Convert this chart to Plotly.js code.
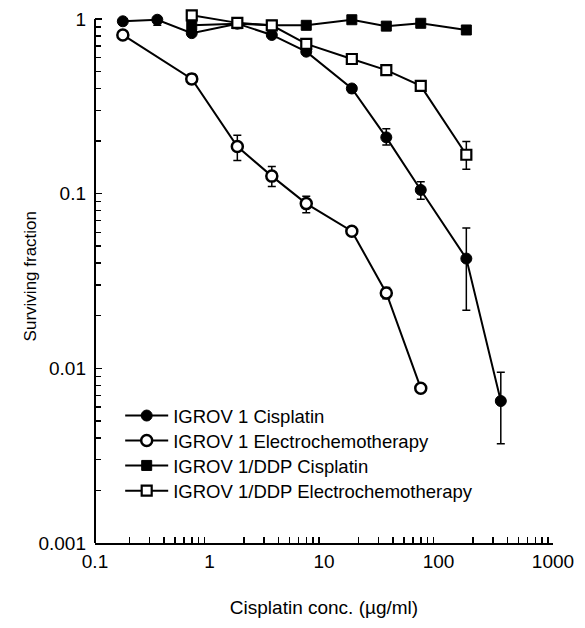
<!DOCTYPE html>
<html><head><meta charset="utf-8">
<script src="https://cdn.plot.ly/plotly-3.0.1.min.js"></script>
<style>html,body{margin:0;padding:0;background:#fff}#chart{width:585px;height:628px}</style>
</head><body><div id="chart"></div>
<script>
// IGROV 1 Cisplatin
const igCisX = [0.175, 0.35, 0.7, 1.75, 3.5, 7, 17.5, 35, 70, 175, 350];
const igCisY = [0.97, 0.99, 0.83, 0.94, 0.81, 0.65, 0.40, 0.21, 0.105, 0.0425, 0.0065];
const igCisErrUp = [0, 0, 0, 0, 0, 0, 0.02, 0.025, 0.012, 0.021, 0.003];
const igCisErrDn = [0, 0.07, 0, 0, 0, 0, 0.02, 0.02, 0.012, 0.021, 0.0028];
// IGROV 1 Electrochemotherapy
const igEctX = [0.175, 0.7, 1.75, 3.5, 7, 17.5, 35, 70];
const igEctY = [0.81, 0.454, 0.186, 0.126, 0.0877, 0.061, 0.027, 0.0077];
const igEctErrUp = [0, 0.03, 0.03, 0.017, 0.009, 0, 0.002, 0];
const igEctErrDn = [0, 0.03, 0.031, 0.016, 0.01, 0, 0.002, 0];
// IGROV 1/DDP Cisplatin
const ddpCisX = [0.7, 1.75, 3.5, 7, 17.5, 35, 70, 175];
const ddpCisY = [0.92, 0.94, 0.92, 0.92, 0.99, 0.91, 0.945, 0.865];
// IGROV 1/DDP Electrochemotherapy
const ddpEctX = [0.7, 1.75, 3.5, 7, 17.5, 35, 70, 175];
const ddpEctY = [1.05, 0.95, 0.92, 0.72, 0.59, 0.51, 0.414, 0.167];
const ddpEctErrUp = [0, 0, 0, 0, 0, 0, 0, 0.032];
const ddpEctErrDn = [0, 0, 0, 0, 0, 0, 0, 0.029];

const seriesNames = ['IGROV 1 Cisplatin', 'IGROV 1 Electrochemotherapy', 'IGROV 1/DDP Cisplatin', 'IGROV 1/DDP Electrochemotherapy'];
const xTickVals = [0.1, 1, 10, 100, 1000];
const xTickText = ['0.1', '1', '10', '100', '1000'];
const yTickVals = [0.001, 0.01, 0.1, 1];
const yTickText = ['0.001', '0.01', '0.1', '1'];

// y range extends slightly above 1 so the marker drawn above the top tick stays visible
const yRangeLog = [-3, 0.0514];

function minorTicks(lo, hi) {
  const out = [];
  for (let e = lo; e < hi; e++) for (let d = 2; d <= 9; d++) out.push(d * Math.pow(10, e));
  return out;
}

const lineStyle = {color: 'black', width: 2};
function err(up, dn) {
  return {type: 'data', symmetric: false, array: up, arrayminus: dn, color: 'black', thickness: 1.5, width: 4};
}

const traces = [
  {x: igCisX, y: igCisY, name: seriesNames[0], legend: 'legend', mode: 'lines+markers', line: lineStyle,
   marker: {symbol: 'circle', size: 11, color: 'black', line: {color: 'black', width: 1}},
   error_y: err(igCisErrUp, igCisErrDn), cliponaxis: false},
  {x: igEctX, y: igEctY, name: seriesNames[1], legend: 'legend2', mode: 'lines+markers', line: lineStyle,
   marker: {symbol: 'circle', size: 11, color: 'white', line: {color: 'black', width: 2.5}},
   error_y: err(igEctErrUp, igEctErrDn), cliponaxis: false},
  {x: ddpCisX, y: ddpCisY, name: seriesNames[2], legend: 'legend3', mode: 'lines+markers', line: lineStyle,
   marker: {symbol: 'square', size: 10, color: 'black', line: {color: 'black', width: 1}},
   cliponaxis: false},
  {x: ddpEctX, y: ddpEctY, name: seriesNames[3], legend: 'legend4', mode: 'lines+markers', line: lineStyle,
   marker: {symbol: 'square', size: 10, color: 'white', line: {color: 'black', width: 2.2}},
   error_y: err(ddpEctErrUp, ddpEctErrDn), cliponaxis: false}
];

const axisCommon = {
  type: 'log', showgrid: false, zeroline: false, linewidth: 2, linecolor: 'black',
  ticks: 'inside', tickcolor: 'black', tickwidth: 1.5, tickmode: 'array', automargin: false
};

function legendAt(yPaper) {
  return {x: 0.055, y: yPaper, xanchor: 'left', yanchor: 'top', bgcolor: 'rgba(0,0,0,0)',
          font: {size: 18.5}, borderwidth: 0, itemwidth: 43};
}

const layout = {
  width: 585, height: 628,
  margin: {l: 95, r: 32, t: 10, b: 85, pad: 0},
  paper_bgcolor: 'white', plot_bgcolor: 'white',
  font: {family: 'Liberation Sans, Arial, sans-serif', size: 19, color: 'black'},
  showlegend: true,
  legend: legendAt(0.2739),
  legend2: legendAt(0.2270),
  legend3: legendAt(0.1803),
  legend4: legendAt(0.1330),
  xaxis: Object.assign({}, axisCommon, {
    showline: true,
    range: [-1, 3], tickvals: xTickVals, ticktext: xTickText, ticklen: 0, ticklabelstandoff: 0,
    minor: {tickmode: 'array', tickvals: minorTicks(-1, 3), ticks: 'inside', ticklen: 6, tickwidth: 1.5, tickcolor: 'black', showgrid: false},
    title: {text: 'Cisplatin conc. (µg/ml)', font: {size: 19}, standoff: 30}
  }),
  yaxis: Object.assign({}, axisCommon, {
    showline: false,
    range: yRangeLog, tickvals: yTickVals, ticktext: yTickText, ticklen: 7, ticklabelstandoff: 8,
    minor: {tickmode: 'array', tickvals: minorTicks(-3, 0), ticks: 'inside', ticklen: 6, tickwidth: 1.5, tickcolor: 'black', showgrid: false}
  }),
  shapes: [{
    type: 'line', xref: 'paper', yref: 'paper', x0: 0, x1: 0,
    y0: 0, y1: (0 - yRangeLog[0]) / (yRangeLog[1] - yRangeLog[0]),
    line: {color: 'black', width: 2}, layer: 'above'
  }],
  annotations: [{
    text: 'Surviving fraction', textangle: -90, showarrow: false,
    xref: 'paper', yref: 'paper', x: -0.14, y: 0.50, xanchor: 'center', yanchor: 'middle',
    font: {size: 17, color: 'black'}
  }]
};

Plotly.newPlot('chart', traces, layout, {displayModeBar: false, staticPlot: true});
</script>
</body></html>
